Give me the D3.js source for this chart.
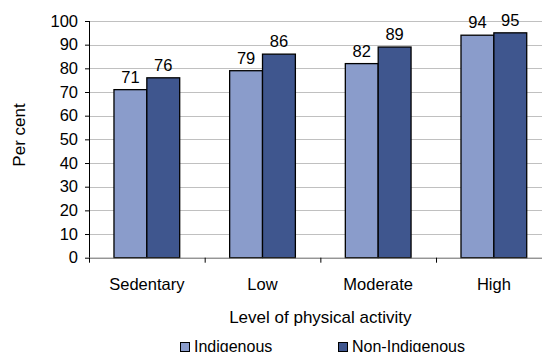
<!DOCTYPE html>
<html>
<head>
<meta charset="utf-8">
<script src="https://cdn.jsdelivr.net/npm/d3@7"></script>
<style>
  body { margin: 0; background: #fff; }
  svg { display: block; font-family: "Liberation Sans", Arial, sans-serif; }
</style>
</head>
<body>
<svg width="542" height="352"></svg>
<script>
var categories = ["Sedentary", "Low", "Moderate", "High"];
var seriesNames = ["Indigenous", "Non-Indigenous"];
var indigenous = [71, 79, 82, 94];
var nonIndigenous = [76, 86, 89, 95];
var yTicks = [0, 10, 20, 30, 40, 50, 60, 70, 80, 90, 100];

var colors = ["#8a9ccb", "#3f568e"];

var svg = d3.select("svg");

var plotLeft = 89, plotRight = 551.7, plotTop = 21, plotBottom = 257.7;

var xScale = d3.scaleBand().domain(categories).range([plotLeft, plotRight]);
var xInner = d3.scaleBand().domain(seriesNames)
  .range([0, xScale.bandwidth()]).paddingOuter(0.76).paddingInner(0);
var yScale = d3.scaleLinear().domain([0, 100]).range([plotBottom, plotTop]);

// gridlines
svg.append("g")
  .selectAll("line")
  .data(yTicks.slice(1))
  .enter().append("line")
  .attr("x1", plotLeft).attr("x2", 542)
  .attr("y1", function (d) { return Math.round(yScale(d)) + 0.5; })
  .attr("y2", function (d) { return Math.round(yScale(d)) + 0.5; })
  .style("stroke", "#c0c0c0")
  .style("stroke-width", "1px");

// y axis
var yAxis = d3.axisLeft(yScale).tickValues(yTicks).tickSize(4).tickPadding(7);
var yG = svg.append("g")
  .attr("transform", "translate(" + plotLeft + ",0)")
  .call(yAxis);
yG.selectAll("text").style("font-size", "16.5px").style("fill", "#000");
yG.selectAll("line").style("stroke", "#000");
yG.select("path.domain").attr("d", "M0.5," + plotTop + "V" + plotBottom).style("stroke", "#000");

// bars
var rows = categories.map(function (c, i) {
  return { cat: c, values: [indigenous[i], nonIndigenous[i]] };
});

var groups = svg.selectAll("g.grp")
  .data(rows).enter()
  .append("g")
  .attr("class", "grp")
  .attr("transform", function (d) { return "translate(" + xScale(d.cat) + ",0)"; });

groups.selectAll("rect")
  .data(function (d) { return d.values.map(function (v, j) { return { s: seriesNames[j], v: v, j: j }; }); })
  .enter().append("rect")
  .attr("x", function (d) { return xInner(d.s); })
  .attr("width", xInner.bandwidth())
  .attr("y", function (d) { return yScale(d.v); })
  .attr("height", function (d) { return plotBottom - yScale(d.v); })
  .style("fill", function (d) { return colors[d.j]; })
  .style("stroke", "#000")
  .style("stroke-width", "1.3px");

groups.selectAll("text.val")
  .data(function (d) { return d.values.map(function (v, j) { return { s: seriesNames[j], v: v }; }); })
  .enter().append("text")
  .attr("class", "val")
  .attr("x", function (d) { return xInner(d.s) + xInner.bandwidth() / 2; })
  .attr("y", function (d) { return yScale(d.v) - 7; })
  .attr("text-anchor", "middle")
  .style("font-size", "16.5px")
  .text(function (d) { return d.v; });

// x axis
var xAxis = d3.axisBottom(xScale).tickSize(0);
var xG = svg.append("g")
  .attr("transform", "translate(0," + plotBottom + ")")
  .call(xAxis);
xG.select("path.domain").attr("d", "M" + plotLeft + ",0.5H542").style("stroke", "#666");
xG.selectAll("text")
  .attr("dy", null)
  .attr("y", 32)
  .style("font-size", "16.5px")
  .style("fill", "#000");

// x axis tick marks between categories
svg.append("g")
  .selectAll("line")
  .data(categories)
  .enter().append("line")
  .attr("x1", function (d) { return xScale(d) + 0.5; })
  .attr("x2", function (d) { return xScale(d) + 0.5; })
  .attr("y1", plotBottom)
  .attr("y2", plotBottom + 5)
  .style("stroke", "#000");

// titles
svg.append("text")
  .attr("x", (plotLeft + plotRight) / 2).attr("y", 323)
  .attr("text-anchor", "middle")
  .style("font-size", "17px")
  .text("Level of physical activity");

svg.append("text")
  .attr("transform", "translate(25,135) rotate(-90)")
  .attr("text-anchor", "middle")
  .style("font-size", "17px")
  .text("Per cent");

// legend
var legendX = [180, 338];
var legend = svg.selectAll("g.leg")
  .data(seriesNames).enter()
  .append("g")
  .attr("class", "leg")
  .attr("transform", function (d, i) { return "translate(" + legendX[i] + ",342)"; });

legend.append("rect")
  .attr("x", 0.5).attr("y", 0.5)
  .attr("width", 9).attr("height", 9)
  .style("fill", function (d, i) { return colors[i]; })
  .style("stroke", "#000")
  .style("stroke-width", "1px");

legend.append("text")
  .attr("x", 14).attr("y", 10)
  .style("font-size", "16px")
  .text(function (d) { return d; });
</script>
</body>
</html>
